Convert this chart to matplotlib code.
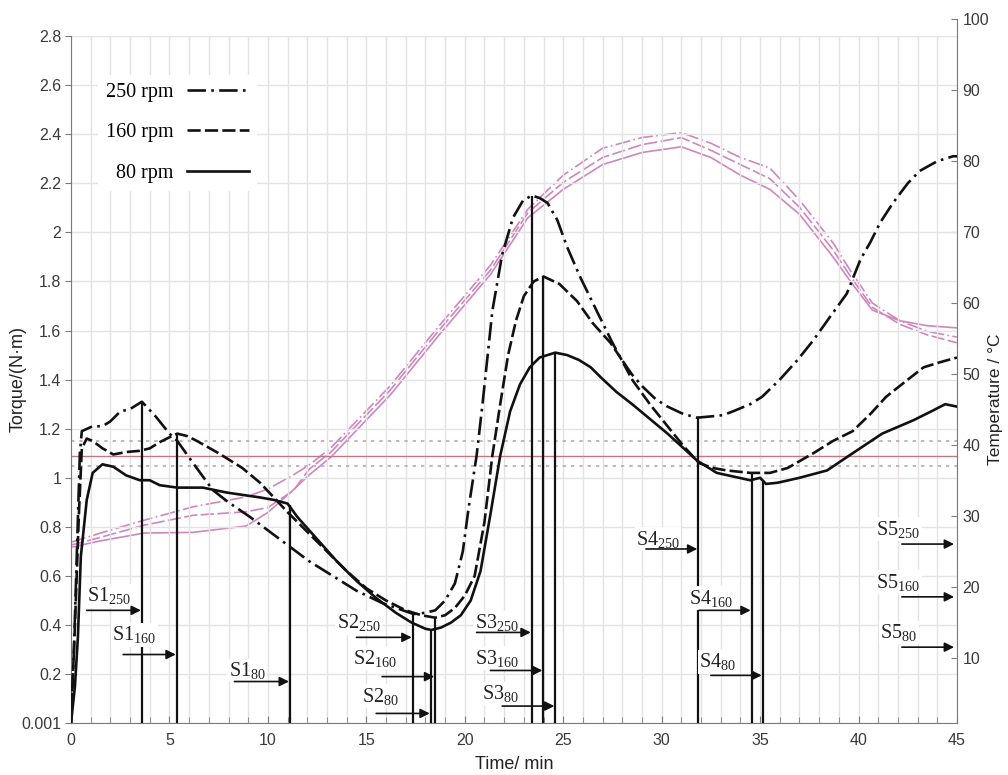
import matplotlib
matplotlib.use("Agg")
import matplotlib.pyplot as plt
from matplotlib.ticker import MultipleLocator

# ---------------- data ----------------
t_250 = [0, 0.15, 0.3, 0.45, 0.55, 1.1, 1.6, 2.0, 2.5, 3.0, 3.6, 4.3, 5.0, 5.4, 6.2, 7.2, 8.0, 9.1,
         10.1, 11.1, 12.1, 13.3, 14.5, 15.8, 16.5, 17.4, 18.0, 18.5, 19.0, 19.5, 19.9, 20.2, 20.6,
         20.9, 21.4, 21.9, 22.45, 22.96, 23.4, 23.8, 24.2, 24.7, 25.2, 25.85, 26.7, 27.5, 27.9,
         28.5, 29.05, 29.7, 30.3, 31.1, 31.8, 32.5, 33.1, 33.6, 34.5, 35.1, 36.0, 36.9, 37.7, 38.5,
         39.4, 40.1, 40.6, 41.1, 41.75, 42.5, 43.1, 44.0, 44.8, 45.0]
q_250 = [0.0, 0.3, 0.7, 1.1, 1.19, 1.21, 1.21, 1.23, 1.27, 1.28, 1.31, 1.25, 1.18, 1.15, 1.06, 0.95,
         0.90, 0.84, 0.78, 0.72, 0.66, 0.60, 0.54, 0.49, 0.47, 0.445, 0.45, 0.46, 0.50, 0.57, 0.70,
         0.88, 1.09, 1.30, 1.68, 1.91, 2.06, 2.13, 2.15, 2.14, 2.12, 2.05, 1.94, 1.82, 1.68, 1.55,
         1.49, 1.42, 1.37, 1.32, 1.29, 1.26, 1.245, 1.25, 1.255, 1.27, 1.30, 1.33, 1.40, 1.48, 1.56,
         1.65, 1.75, 1.89, 1.96, 2.04, 2.12, 2.20, 2.25, 2.29, 2.31, 2.31]

t_160 = [0, 0.2, 0.4, 0.55, 0.8, 1.1, 1.6, 2.15, 2.8, 3.5, 4.0, 4.5, 5.0, 5.4, 5.9, 6.4, 7.5, 8.7,
         9.6, 10.3, 11.0, 12.0, 13.0, 14.0, 15.0, 16.0, 17.0, 17.8, 18.5, 19.0, 19.5, 20.0, 20.5,
         21.0, 21.4, 21.8, 22.2, 22.6, 23.0, 23.5, 24.0, 24.8, 25.7, 26.5, 27.4, 27.9, 28.5, 29.4,
         30.3, 31.1, 31.9, 32.6, 33.3, 34.5, 35.5, 36.4, 37.7, 38.7, 39.7, 40.6, 41.4, 42.5, 43.3,
         44.1, 45.0]
q_160 = [0.0, 0.4, 0.85, 1.12, 1.16, 1.15, 1.12, 1.095, 1.105, 1.11, 1.12, 1.145, 1.165, 1.18, 1.17,
         1.15, 1.10, 1.04, 0.98, 0.92, 0.86, 0.78, 0.70, 0.62, 0.55, 0.50, 0.46, 0.44, 0.43, 0.44,
         0.47, 0.52, 0.60, 0.82, 1.09, 1.30, 1.50, 1.64, 1.74, 1.80, 1.82, 1.79, 1.72, 1.63, 1.55,
         1.49, 1.40, 1.30, 1.21, 1.13, 1.06, 1.04, 1.03, 1.02, 1.02, 1.04, 1.10, 1.15, 1.19, 1.26,
         1.33, 1.40, 1.45, 1.47, 1.49]

t_80 = [0, 0.2, 0.35, 0.5, 0.8, 1.1, 1.6, 2.15, 2.8, 3.5, 4.0, 4.5, 5.4, 6.7, 7.9, 9.6, 10.3, 11.0,
        11.5, 12.5, 13.5, 14.5, 15.5, 16.5, 17.3, 18.0, 18.3, 18.8, 19.3, 19.8, 20.3, 20.8, 21.3,
        21.8, 22.3, 22.8, 23.3, 23.8, 24.6, 25.2, 25.8, 26.4, 26.9, 27.7, 28.5, 30.3, 31.8, 32.8,
        34.5, 35.0, 35.3, 35.9, 37.0, 38.4, 39.7, 41.2, 42.8, 43.8, 44.4, 45.0]
q_80 = [0.0, 0.15, 0.35, 0.68, 0.91, 1.02, 1.055, 1.045, 1.01, 0.99, 0.99, 0.97, 0.96, 0.96, 0.94,
        0.92, 0.91, 0.895, 0.84, 0.75, 0.66, 0.58, 0.51, 0.45, 0.41, 0.385, 0.38, 0.39, 0.41, 0.44,
        0.50, 0.62, 0.85, 1.09, 1.27, 1.38, 1.45, 1.49, 1.51, 1.50, 1.48, 1.45, 1.41, 1.35, 1.30,
        1.18, 1.07, 1.02, 0.99, 1.0, 0.975, 0.98, 1.0, 1.03, 1.10, 1.18, 1.235, 1.275, 1.30, 1.29]

# temperatures (right axis, degC)
tt = [0, 1.5, 3.7, 6.2, 8.9, 10.0, 11.3, 12.1, 13.2, 16.2, 18.7, 21.3, 23.2, 25.0, 27.0, 29.0, 31.0,
      32.5, 34.0, 35.5, 37.0, 38.7, 39.6, 40.7, 42.1, 43.5, 45.0]
temp_250 = [26.3, 27.6, 29.4, 31.3, 32.7, 33.8, 35.8, 37.2, 39.6, 48.3, 56.8, 65.3, 73.2, 78.0, 81.8,
            83.3, 84.0, 82.5, 80.5, 79.0, 74.5, 68.5, 64.5, 60.0, 57.5, 56.0, 55.2]
temp_160 = [25.9, 27.0, 28.7, 30.1, 30.6, 31.2, 33.6, 36.6, 39.0, 47.7, 56.2, 64.6, 72.7, 77.0, 80.5,
            82.3, 83.3, 81.5, 79.5, 77.5, 73.5, 67.5, 63.7, 59.4, 57.0, 55.5, 54.4]
temp_80 = [25.6, 26.5, 27.6, 27.7, 28.6, 30.5, 33.7, 35.8, 38.3, 47.0, 55.5, 64.0, 72.0, 76.0, 79.5,
           81.2, 82.0, 80.5, 78.0, 76.0, 72.5, 66.5, 63.0, 59.0, 57.5, 56.8, 56.5]

# reference torque band
ref_mid = 1.09
ref_band = [1.05, 1.15]

# characteristic points S1..S4 (time, torque)
s_names = ["S1", "S2", "S3", "S4"]
s_t_250 = [3.6, 17.35, 23.4, 31.86]
s_q_250 = [1.31, 0.445, 2.15, 1.245]
s_t_160 = [5.37, 18.5, 23.99, 34.57]
s_q_160 = [1.18, 0.43, 1.82, 1.02]
s_t_80 = [11.12, 18.27, 24.6, 35.13]
s_q_80 = [0.89, 0.38, 1.51, 0.99]

speeds = ["250", "160", "80"]
y_ticks = [0.001, 0.2, 0.4, 0.6, 0.8, 1.0, 1.2, 1.4, 1.6, 1.8, 2.0, 2.2, 2.4, 2.6, 2.8]
y_ticklabels = ["0.001", "0.2", "0.4", "0.6", "0.8", "1", "1.2", "1.4", "1.6", "1.8", "2", "2.2",
                "2.4", "2.6", "2.8"]
temp_ticks = [10, 20, 30, 40, 50, 60, 70, 80, 90, 100]

# ---------------- style ----------------
plt.rcParams["font.family"] = ["Liberation Sans", "DejaVu Sans"]
plt.rcParams["mathtext.fontset"] = "custom"
plt.rcParams["mathtext.rm"] = "Liberation Serif"
plt.rcParams["mathtext.it"] = "Liberation Serif:italic"

W, H = 1008, 775
fig = plt.figure(figsize=(W / 100, H / 100), dpi=100)
fig.patch.set_facecolor("white")

L, R = 71 / W, 957 / W
ax_bot = (H - 723) / H
ax_top = (H - 36) / H
ax2_top = (H - 19) / H

ax2 = fig.add_axes([L, ax_bot, R - L, ax2_top - ax_bot])
ax = fig.add_axes([L, ax_bot, R - L, ax_top - ax_bot])
ax.set_zorder(ax2.get_zorder() + 1)
ax.patch.set_visible(False)

spine_c = "#7a7a7a"
tick_c = "#3a3a3a"
pink = "#cf86bf"

# temperature axis
ax2.set_xlim(0, 45)
ax2.set_ylim(0.85, 100)
for s in ["top", "left", "bottom"]:
    ax2.spines[s].set_visible(False)
ax2.spines["right"].set_color(spine_c)
ax2.yaxis.tick_right()
ax2.set_yticks(temp_ticks)
ax2.tick_params(axis="y", direction="in", length=4, color=spine_c, labelsize=11.5,
                labelcolor=tick_c, pad=4)
ax2.set_xticks([])
ax2.yaxis.set_label_position("right")
ax2.set_ylabel("Temperature / \u00b0C", fontsize=12.5, color="#222222")
ax2.yaxis.set_label_coords(1.0345, 0.46)

ax2.plot(tt, temp_250, color=pink, lw=1.2, ls=(0, (9, 2, 1, 2)))
ax2.plot(tt, temp_160, color=pink, lw=1.2, ls=(0, (8, 2)))
ax2.plot(tt, temp_80, color=pink, lw=1.2, ls="-")

# torque axis
ax.set_xlim(0, 45)
ax.set_ylim(0.001, 2.8)
ax.set_yticks(y_ticks)
ax.set_yticklabels(y_ticklabels)
ax.xaxis.set_major_locator(MultipleLocator(5))
ax.xaxis.set_minor_locator(MultipleLocator(1))
ax.grid(True, which="both", axis="x", color="#e3e3e3", lw=1.0, zorder=0)
ax.grid(True, which="major", axis="y", color="#e3e3e3", lw=1.0, zorder=0)
ax.set_axisbelow(True)
ax.spines["top"].set_visible(False)
ax.spines["right"].set_visible(False)
ax.spines["left"].set_color(spine_c)
ax.spines["bottom"].set_color(spine_c)
ax.tick_params(axis="x", which="major", direction="in", length=5, color=spine_c,
               labelsize=11.5, labelcolor=tick_c, pad=7)
ax.tick_params(axis="x", which="minor", direction="in", length=4, color=spine_c)
ax.tick_params(axis="y", direction="out", length=4, color=spine_c, labelsize=11.5,
               labelcolor=tick_c, pad=3)
ax.set_xlabel("Time/ min", fontsize=13, color="#222222", labelpad=6)
ax.set_ylabel("Torque/(N\u00b7m)", fontsize=13, color="#222222")
ax.yaxis.set_label_coords(-0.05, 0.5)

# reference band
ax.axhline(ref_mid, color="#c07888", lw=1.0, zorder=2)
for v in ref_band:
    ax.axhline(v, color="#c8a2ac", lw=1.2, ls=(0, (2, 3)), zorder=2)

# torque curves
ls_250 = (0, (7, 2, 1, 2))
ls_160 = (0, (5, 1.6))
l1, = ax.plot(t_250, q_250, color="#111111", lw=1.9, ls=ls_250, zorder=4, label="250 rpm")
l2, = ax.plot(t_160, q_160, color="#111111", lw=1.9, ls=ls_160, zorder=4, label="160 rpm")
l3, = ax.plot(t_80, q_80, color="#111111", lw=1.9, ls="-", zorder=4, label="80 rpm")

# vertical marker lines
for ts, qs in [(s_t_250, s_q_250), (s_t_160, s_q_160), (s_t_80, s_q_80)]:
    ax.vlines(ts, 0.001, qs, colors="#111111", lw=1.6, zorder=5)

serif = ["Liberation Serif", "DejaVu Serif"]
box = dict(facecolor="white", edgecolor="none", pad=1.0)
arrow_kw = dict(arrowstyle="-|>", color="#111111", lw=1.2, mutation_scale=14,
                shrinkA=0, shrinkB=0)


def label(name, speed, tx, ty, ax0, ax1, ay):
    ax.text(tx, ty, name + r"$_{\mathrm{" + speed + "}}$", family=serif, fontsize=14.5,
            color="#222222", ha="left", va="center", zorder=6, bbox=box)
    ax.annotate("", xy=(ax1, ay), xytext=(ax0, ay), arrowprops=arrow_kw, zorder=7)


# S1
label(s_names[0], speeds[0], 0.8, 0.52, 0.8, s_t_250[0] - 0.05, 0.46)
label(s_names[0], speeds[1], 2.1, 0.36, 2.65, s_t_160[0] - 0.05, 0.28)
label(s_names[0], speeds[2], 8.0, 0.215, 8.3, s_t_80[0] - 0.05, 0.17)
# S2
label(s_names[1], speeds[0], 13.5, 0.41, 14.5, s_t_250[1] - 0.05, 0.35)
label(s_names[1], speeds[1], 14.3, 0.265, 15.8, s_t_160[1] - 0.05, 0.19)
label(s_names[1], speeds[2], 14.8, 0.11, 15.5, s_t_80[1] - 0.05, 0.04)
# S3
label(s_names[2], speeds[0], 20.5, 0.41, 20.6, s_t_250[2] - 0.05, 0.37)
label(s_names[2], speeds[1], 20.5, 0.265, 21.3, s_t_160[2] - 0.05, 0.215)
label(s_names[2], speeds[2], 20.9, 0.12, 21.9, s_t_80[2] - 0.05, 0.07)
# S4
label(s_names[3], speeds[0], 28.7, 0.75, 29.2, s_t_250[3] - 0.05, 0.71)
label(s_names[3], speeds[1], 31.4, 0.51, 31.9, s_t_160[3] - 0.05, 0.46)
label(s_names[3], speeds[2], 31.9, 0.25, 32.5, s_t_80[3] - 0.05, 0.195)
# S5 (end of test)
label("S5", speeds[0], 40.9, 0.79, 42.2, 44.85, 0.73)
label("S5", speeds[1], 40.9, 0.575, 42.2, 44.85, 0.515)
label("S5", speeds[2], 41.1, 0.37, 42.2, 44.85, 0.31)

leg = ax.legend(handles=[l1, l2, l3], loc="upper left", bbox_to_anchor=(0.019, 0.958),
                markerfirst=False, frameon=True, facecolor="white", edgecolor="none",
                framealpha=1.0, fancybox=False, prop={"family": serif, "size": 14.5},
                handlelength=3.1, handletextpad=0.65, labelspacing=1.05, borderpad=0.4)
leg.set_zorder(8)

fig.savefig("out.png", dpi=100, facecolor="white")
